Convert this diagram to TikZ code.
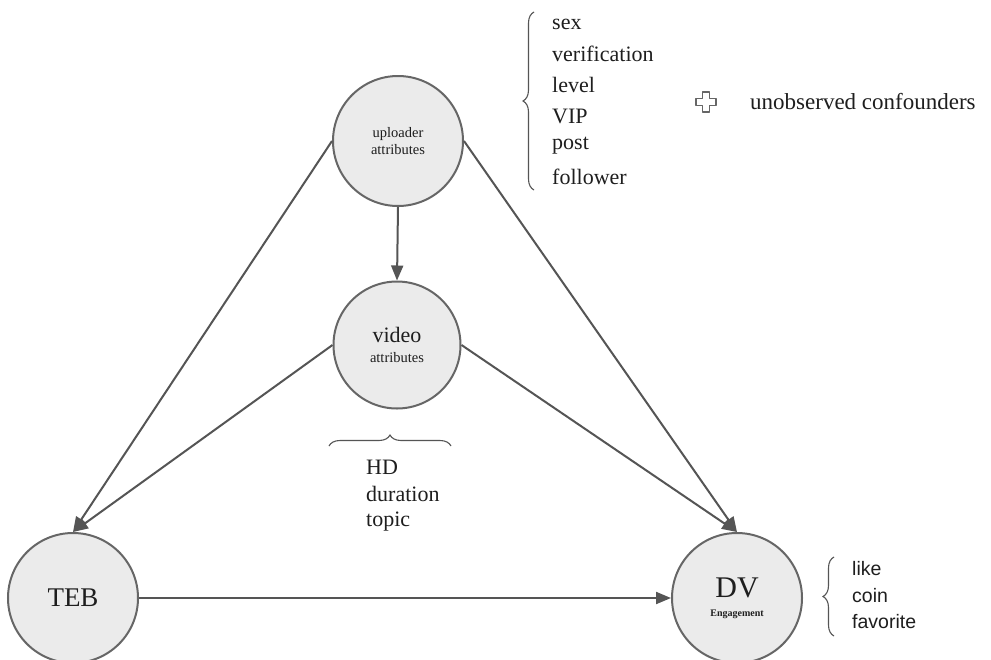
\documentclass[tikz,border=0pt]{standalone}
\usepackage{fontspec}
\setmainfont{Liberation Serif}
\newfontfamily\arialfont{Liberation Sans}
\usetikzlibrary{arrows.meta,decorations.pathreplacing}
\definecolor{circfill}{HTML}{EBEBEB}
\definecolor{circdraw}{HTML}{666666}
\definecolor{linecol}{HTML}{555555}
\definecolor{txt}{HTML}{1E1E1E}
\tikzset{
  vnode/.style={circle, draw=circdraw, fill=circfill, line width=2pt, minimum size=130pt, inner sep=0pt, align=center, text=txt},
  arr/.style={draw=linecol, line width=2pt, -{Triangle[length=15pt,width=12pt]}},
  brc/.style={draw=linecol, line width=1.1pt, decorate, decoration={brace, amplitude=11pt}},
  lst/.style={anchor=west, text=txt, inner sep=0pt},
}
\begin{document}
\begin{tikzpicture}[x=1pt, y=-1pt]
\useasboundingbox (0,0) rectangle (991,659);
\fill[white] (0,0) rectangle (991,659);
% nodes
\node[vnode, font=\fontsize{14.5}{17}\selectfont] (up) at (398,141) {uploader\\attributes};
\node[vnode, minimum size=127pt, font=\fontsize{22}{20}\selectfont] (vid) at (397,345) {video\\\fontsize{14.5}{14}\selectfont attributes};
\node[vnode, font=\fontsize{27}{27}\selectfont] (teb) at (73,598) {TEB};
\node[vnode, font=\fontsize{30}{19}\selectfont] (dv) at (737,598) {DV\\\fontsize{10}{10}\selectfont\bfseries Engagement};
% connectors
\draw[arr] (up.south) -- (vid.north);
\draw[arr] (up.west) -- (teb.north);
\draw[arr] (up.east) -- (dv.north);
\draw[arr] (vid.west) -- (teb.north);
\draw[arr] (vid.east) -- (dv.north);
\draw[arr] (teb.east) -- (dv.west);
% braces
\coordinate (b1s) at (534,190);
\coordinate (b1e) at (534,12);
\draw[brc] (b1s) -- (b1e);
\coordinate (b2s) at (329,446);
\coordinate (b2e) at (451,446);
\draw[brc] (b2s) -- (b2e);
\coordinate (b3s) at (834,636);
\coordinate (b3e) at (834,557);
\draw[brc] (b3s) -- (b3e);
% uploader attribute list
\begin{scope}[font=\fontsize{22}{22}\selectfont]
\node[lst] (l1) at (552,24) {sex};
\node[lst] (l2) at (552,54) {verification};
\node[lst] (l3) at (552,85) {level};
\node[lst] (l4) at (552,116) {VIP};
\node[lst] (l5) at (552,146) {post};
\node[lst] (l6) at (552,177) {follower};
\node[lst] (hd1) at (366,467) {HD};
\node[lst] (hd2) at (366,494) {duration};
\node[lst] (hd3) at (366,522) {topic};
\end{scope}
\node[lst, font=\fontsize{23}{23}\selectfont] (unobs) at (750,102) {unobserved confounders};
% plus sign
\draw[draw=circdraw, line width=1.2pt, line join=round]
  (702.5,92) -- (709.5,92) -- (709.5,98.5) -- (716,98.5) -- (716,105.5) -- (709.5,105.5)
  -- (709.5,112) -- (702.5,112) -- (702.5,105.5) -- (696,105.5) -- (696,98.5) -- (702.5,98.5) -- cycle;
% DV list
\begin{scope}[font=\arialfont\fontsize{19.5}{20}\selectfont]
\node[lst] (d1) at (852,569) {like};
\node[lst] (d2) at (852,596) {coin};
\node[lst] (d3) at (852,622) {favorite};
\end{scope}
\end{tikzpicture}
\end{document}
